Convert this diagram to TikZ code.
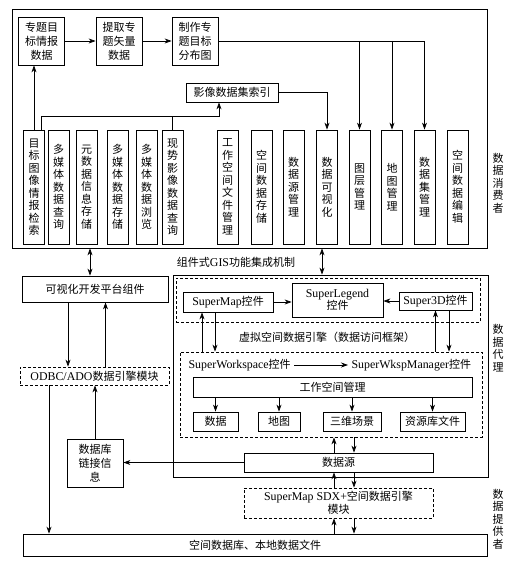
\documentclass[tikz,border=0pt]{standalone}
\usepackage{fontspec}
\setmainfont{Noto Sans CJK SC}
\newfontfamily\lat[Scale=1.08]{Liberation Serif}
\usetikzlibrary{arrows.meta}

\begin{document}
\begin{tikzpicture}[%
    x=1pt, y=-1pt,                          % pixel grid, y grows downwards
    >={Stealth[length=7pt,width=5pt]},      % filled arrow heads
    font=\fontsize{11}{12.5}\selectfont,
    ]
% -------------------------------------------------
% Box styles
\tikzset{
  procbox/.style={draw, line width=0.8pt, rectangle, inner sep=0pt, align=center},
  dashbox/.style={procbox, dash pattern=on 3pt off 2pt},
  vbox/.style={procbox, minimum width=21pt, minimum height=114pt},
  topbox/.style={procbox, minimum width=46pt, minimum height=48pt,
    font=\fontsize{11}{14}\selectfont},
  sidelbl/.style={align=center, inner sep=0pt},
  % Connector line styles
  norm/.style={->, line width=0.7pt},
  both/.style={<->, line width=0.7pt},
}
\useasboundingbox (0,0) rectangle (515,561);
% -------------------------------------------------
% Data consumer layer
\node [procbox, minimum width=475pt, minimum height=239pt] (cons) at (249.5,128.5) {};
\node [topbox] (t1) at (41.5,41) {专题目\\标情报\\数据};
\node [topbox] (t2) at (119,41)  {提取专\\题矢量\\数据};
\node [topbox] (t3) at (195,41)  {制作专\\题目标\\分布图};
\node [procbox, minimum width=92pt, minimum height=19pt] (idx) at (232,92.5) {影像数据集索引};

\foreach \n/\x/\t in {
    v1/34/{目\\标\\图\\像\\情\\报\\检\\索},
    v2/58.5/{多\\媒\\体\\数\\据\\查\\询},
    v3/86.5/{元\\数\\据\\信\\息\\存\\储},
    v4/117.5/{多\\媒\\体\\数\\据\\存\\储},
    v5/146.5/{多\\媒\\体\\数\\据\\浏\\览},
    v6/172.5/{现\\势\\影\\像\\数\\据\\查\\询},
    v7/227.5/{工\\作\\空\\间\\文\\件\\管\\理},
    v8/261.5/{空\\间\\数\\据\\存\\储},
    v9/293.5/{数\\据\\源\\管\\理},
    v10/327/{数\\据\\可\\视\\化},
    v11/359.5/{图\\层\\管\\理},
    v12/392/{地\\图\\管\\理},
    v13/424.5/{数\\据\\集\\管\\理},
    v14/457.5/{空\\间\\数\\据\\编\\辑}}
  \node [vbox] (\n) at (\x,187) {\t};

\draw [norm] (t1) -- (t2);
\draw [norm] (t2) -- (t3);
\draw [norm] (t3.east) -| (v13.north);
\draw [norm] (v11.north |- t3.east) -- (v11.north);
\draw [norm] (v12.north |- t3.east) -- (v12.north);
\draw [norm] (idx.east) -| (v10.north);
\draw [norm] (v1.north) -- (v1.north |- t1.south);
\path ([xshift=7pt]v1.north) ++(0,-13) coordinate (bus);
\draw [norm] ([xshift=7pt]v1.north) -- (bus) -| ([xshift=-13pt]idx.south);
\draw [line width=0.7pt] (v6.north) -- (v6.north |- bus);

\node (mech) at (236,262) {组件式{\lat GIS}功能集成机制};

% -------------------------------------------------
% Left column
\node [procbox, minimum width=146pt, minimum height=26pt] (vis) at (95,289) {可视化开发平台组件};
\node [dashbox, minimum width=149pt, minimum height=18pt] (odbc) at (94.5,376) {{\lat ODBC/ADO}数据引擎模块};
\node [procbox, minimum width=56pt, minimum height=48pt,
  font=\fontsize{11}{14}\selectfont] (link) at (95,463) {数据库\\链接信\\息};

% -------------------------------------------------
% Data agent layer
\node [procbox, minimum width=315pt, minimum height=202pt] (agent) at (330.5,376) {};
\node [dashbox, minimum width=304pt, minimum height=44pt] (grp1) at (328,300) {};
\node [procbox, minimum width=90pt, minimum height=20pt] (sm) at (228,302) {{\lat SuperMap}控件};
\node [procbox, minimum width=91pt, minimum height=34pt] (leg) at (337.5,300) {{\lat SuperLegend}\\控件};
\node [procbox, minimum width=73pt, minimum height=18pt] (s3d) at (435.5,301) {{\lat Super3D}控件};
\node (vse) at (327,337) {虚拟空间数据引擎（数据访问框架）};

\node [dashbox, minimum width=302pt, minimum height=85pt] (grp2) at (331,394.5) {};
\node [anchor=west] (ws) at (185,365) {{\lat SuperWorkspace}控件};
\node [anchor=west] (wm) at (348,365) {{\lat SuperWkspManager}控件};
\node [procbox, minimum width=279pt, minimum height=20pt] (wsm) at (332.5,387) {工作空间管理};
\node [procbox, minimum width=45pt, minimum height=19pt] (d1) at (215.5,421.5) {数据};
\node [procbox, minimum width=42pt, minimum height=19pt] (d2) at (279,421.5) {地图};
\node [procbox, minimum width=58pt, minimum height=19pt] (d3) at (352,421.5) {三维场景};
\node [procbox, minimum width=65pt, minimum height=19pt] (d4) at (432.5,421.5) {资源库文件};
\node [procbox, minimum width=189pt, minimum height=19pt] (ds) at (338.5,462.5) {数据源};

% -------------------------------------------------
% Data provider layer
\node [dashbox, minimum width=189pt, minimum height=30pt] (sdx) at (338.5,503) {{\lat SuperMap SDX+}空间数据引擎\\模块};
\node [procbox, minimum width=464pt, minimum height=22pt] (store) at (255,545) {空间数据库、本地数据文件};

\node [sidelbl] (lcons)  at (498,183) {数\\据\\消\\费\\者};
\node [sidelbl] (lagent) at (498,348) {数\\据\\代\\理};
\node [sidelbl] (lprov)  at (498,519) {数\\据\\提\\供\\者};

% -------------------------------------------------
% Connectors
\draw [both] ([xshift=-5pt]vis.north) -- ([xshift=-5pt]vis.north |- cons.south);
\draw [both] ([xshift=-8.5pt]agent.north) -- ([xshift=-8.5pt]agent.north |- cons.south);
\draw [norm] ([xshift=-27pt]vis.south) -- ([xshift=-27pt]vis.south |- odbc.north);
\draw [norm] ([xshift=11pt]odbc.north) -- ([xshift=11pt]odbc.north |- vis.south);
\draw [norm] (link.north) -- (link.north |- odbc.south);
\draw [norm] ([xshift=-45.5pt]odbc.south) -- ([xshift=-45.5pt]odbc.south |- store.north);
\draw [norm] (ds.west) -- (ds.west -| link.east);

\draw [norm] (sm.east) -- (sm.east -| leg.west);
\draw [norm] (s3d.west) -- (s3d.west -| leg.east);
\draw [norm] ([xshift=-26pt]sm.south |- grp2.north) -- ([xshift=-26pt]sm.south);
\draw [norm] ([xshift=-13pt]sm.south) -- ([xshift=-13pt]sm.south |- grp2.north);
\draw [norm] (s3d.south |- grp2.north) -- (s3d.south);
\draw [norm] ([xshift=13.5pt]s3d.south) -- ([xshift=13.5pt]s3d.south |- grp2.north);
\draw [norm] (ws.east) -- (wm.west);
\foreach \d in {d1,d2,d3,d4}
  \draw [norm] (\d.north |- wsm.south) -- (\d.north);

% up/down pairs through the data source
\foreach \a/\b in {grp2/ds, ds/sdx, sdx/store} {
  \draw [norm] ([xshift=-4.5pt]ds.north |- \b.north) -- ([xshift=-4.5pt]ds.north |- \a.south);
  \draw [norm] ([xshift=15.5pt]ds.north |- \a.south) -- ([xshift=15.5pt]ds.north |- \b.north);
}
% -------------------------------------------------
\end{tikzpicture}
\end{document}
